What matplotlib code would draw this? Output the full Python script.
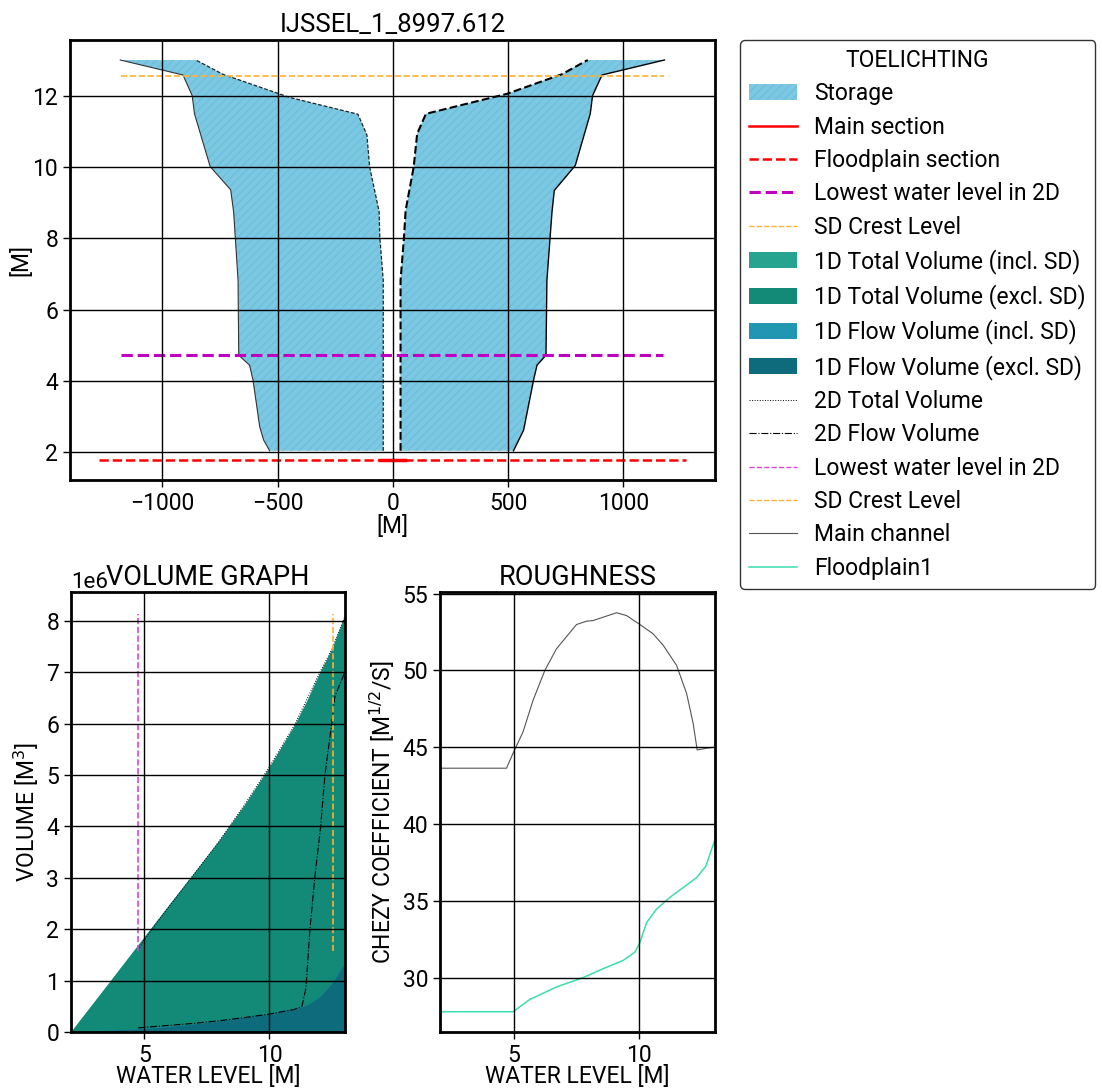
import matplotlib

matplotlib.use("Agg")
import matplotlib.pyplot as plt
from matplotlib.lines import Line2D
from matplotlib.patches import Patch

plt.rcParams["font.family"] = ["Roboto", "DejaVu Sans"]
plt.rcParams["font.size"] = 16
plt.rcParams["hatch.linewidth"] = 1.0

# --- cross-section (top) ---
left_outer_x = [-1183, -911, -871, -861, -793, -704, -691, -672, -669, -622, -607, -578, -561, -535]
left_outer_y = [13.0, 12.58, 12.0, 11.49, 10.01, 9.36, 8.73, 6.82, 4.72, 4.44, 4.02, 2.71, 2.34, 2.04]
left_inner_x = [-42, -42, -57, -60, -101, -113, -152, -448, -738, -855]
left_inner_y = [2.04, 6.82, 8.03, 8.75, 10.0, 10.9, 11.48, 11.95, 12.6, 13.0]
right_outer_x = [1178, 907, 866, 856, 791, 700, 690, 668, 664, 625, 610, 567, 523]
right_outer_y = [13.0, 12.58, 12.0, 11.49, 10.04, 9.34, 8.73, 6.82, 4.72, 4.44, 4.02, 2.62, 2.04]
right_inner_x = [33, 33, 48, 55, 90, 105, 143, 494, 733, 845]
right_inner_y = [2.04, 6.82, 8.03, 8.78, 10.0, 10.93, 11.49, 12.05, 12.6, 13.0]

main_section_x = [-57, 52]
floodplain_section_x = [-1274, 1270]
section_level = 1.78
lowest_2d_x = [-1180, 1170]
lowest_2d_level = 4.72
crest_x = [-1180, 1175]
crest_level = 12.55

# --- volume graph ---
vol_level = [2.04, 3, 4, 5, 6, 7, 8, 9, 10, 11, 11.5, 12, 12.5, 13.0]
total_incl_sd = [0, 0.60, 1.23, 1.86, 2.49, 3.11, 3.74, 4.42, 5.16, 5.97, 6.45, 6.98, 7.46, 8.10]
total_excl_sd = [0, 0.60, 1.23, 1.86, 2.49, 3.11, 3.74, 4.42, 5.16, 5.97, 6.45, 6.98, 7.45, 8.06]
flow_incl_sd = [0, 0.02, 0.045, 0.07, 0.11, 0.16, 0.22, 0.29, 0.36, 0.46, 0.53, 0.68, 0.95, 1.34]
flow_excl_sd = [0, 0.02, 0.045, 0.07, 0.11, 0.16, 0.22, 0.29, 0.36, 0.46, 0.53, 0.68, 0.95, 1.34]

total_2d_level = [4.75, 5.0, 6, 7, 8, 9, 10, 11, 12, 12.5, 13.0]
total_2d = [1.6, 1.8, 2.45, 3.08, 3.72, 4.42, 5.16, 5.97, 6.98, 7.45, 8.06]
flow_2d_level = [4.75, 6, 7, 8, 9, 10, 11, 11.3, 11.46, 11.62, 11.82, 12.05, 12.22, 12.49, 12.62, 13.0]
flow_2d = [0.08, 0.13, 0.17, 0.22, 0.28, 0.35, 0.44, 0.50, 0.85, 2.0, 3.03, 4.0, 5.0, 6.0, 6.53, 6.98]
vline_range = [1.57, 8.13]

# --- roughness ---
main_level = [2.05, 4.71, 4.97, 5.37, 5.77, 6.24, 6.70, 7.50, 7.90, 8.16, 9.10, 9.50, 10.03, 10.56,
              10.96, 11.49, 11.89, 12.15, 12.31, 12.69, 13.0]
main_chezy = [43.63, 43.63, 44.6, 46.0, 48.06, 50.0, 51.4, 52.98, 53.2, 53.24, 53.75, 53.56, 52.98,
              52.37, 51.62, 50.32, 48.49, 46.55, 44.82, 44.93, 45.0]
flood_level = [2.05, 4.97, 5.1, 5.64, 6.70, 7.76, 8.56, 9.36, 9.83, 10.03, 10.3, 10.69, 11.22, 11.75,
               12.29, 12.66, 13.0]
flood_chezy = [27.78, 27.78, 27.93, 28.58, 29.39, 30.0, 30.58, 31.12, 31.66, 32.3, 33.6, 34.46, 35.22,
               35.86, 36.51, 37.27, 38.9]

STORAGE_FACE = "#7cc8e2"
STORAGE_HATCH = "#6cbfdd"
TOTAL_INCL = "#26a490"
TOTAL_EXCL = "#138a78"
FLOW_INCL = "#2196b2"
FLOW_EXCL = "#0e6b7b"
LOWEST_C = "#dd44dd"
CREST_C = "#ffb030"
FLOOD_C = "#3ddcae"

fig = plt.figure(figsize=(11.02, 10.9), dpi=100)
ax_cs = fig.add_axes([0.0635, 0.5596, 0.5853, 0.4037])
ax_vol = fig.add_axes([0.0644, 0.0532, 0.2486, 0.4037])
ax_rough = fig.add_axes([0.3993, 0.0532, 0.2495, 0.4037])

for axis in (ax_cs, ax_vol, ax_rough):
    axis.set_axisbelow(False)
    axis.grid(True, color="k", linewidth=1.0)
    for spine in axis.spines.values():
        spine.set_linewidth(2)
    axis.tick_params(length=5, width=1, labelsize=16.5)

# cross-section
left_poly_x = left_outer_x + left_inner_x
left_poly_y = left_outer_y + left_inner_y
right_poly_x = right_outer_x + right_inner_x
right_poly_y = right_outer_y + right_inner_y
for px, py in ((left_poly_x, left_poly_y), (right_poly_x, right_poly_y)):
    ax_cs.fill(px, py, facecolor=STORAGE_FACE, edgecolor=STORAGE_HATCH, hatch="////", linewidth=0)
ax_cs.plot(left_outer_x, left_outer_y, color="#333333", linewidth=0.8)
ax_cs.plot(left_inner_x, left_inner_y, color="#222222", linewidth=0.9, linestyle=(0, (3, 1.5)))
ax_cs.plot(right_outer_x, right_outer_y, color="k", linewidth=1.0)
ax_cs.plot(right_inner_x, right_inner_y, color="k", linewidth=1.5, linestyle="--")

ax_cs.plot(floodplain_section_x, [section_level] * 2, color="red", linestyle="--", linewidth=1.8)
ax_cs.plot(main_section_x, [section_level] * 2, color="red", linewidth=2.5)
ax_cs.plot(lowest_2d_x, [lowest_2d_level] * 2, color="#c000c0", linestyle="--", linewidth=2.2)
ax_cs.plot(crest_x, [crest_level] * 2, color=CREST_C, linestyle="--", linewidth=1.2)

ax_cs.set_title("IJSSEL_1_8997.612", fontsize=18.5)
ax_cs.set_xlabel("[M]", fontsize=16.5, labelpad=0)
ax_cs.set_ylabel("[M]", fontsize=16.5, labelpad=0)

# volume graph
scale = 1e6
ax_vol.fill_between(vol_level, 0, [v * scale for v in total_incl_sd], color=TOTAL_INCL, linewidth=0)
ax_vol.fill_between(vol_level, 0, [v * scale for v in total_excl_sd], color=TOTAL_EXCL, linewidth=0)
ax_vol.fill_between(vol_level, 0, [v * scale for v in flow_incl_sd], color=FLOW_INCL, linewidth=0)
ax_vol.fill_between(vol_level, 0, [v * scale for v in flow_excl_sd], color=FLOW_EXCL, linewidth=0)
ax_vol.plot(total_2d_level, [v * scale for v in total_2d], color="k", linewidth=0.7, linestyle=":")
ax_vol.plot(flow_2d_level, [v * scale for v in flow_2d], color="k", linewidth=0.8, linestyle="-.")
ax_vol.plot([lowest_2d_level + 0.03] * 2, [v * scale for v in vline_range], color=LOWEST_C,
            linestyle="--", linewidth=1.2)
ax_vol.plot([crest_level] * 2, [v * scale for v in vline_range], color=CREST_C,
            linestyle="--", linewidth=1.2)
ax_vol.set_xlim(2.06, 13.02)
ax_vol.set_ylim(0, 8.56e6)
ax_vol.yaxis.get_offset_text().set_fontsize(16)
ax_vol.set_title("VOLUME GRAPH", fontsize=19.5, y=1.0, pad=5)
ax_vol.set_xlabel("WATER LEVEL [M]", fontsize=16.5, labelpad=-1)
ax_vol.set_ylabel("VOLUME [M$^3$]", fontsize=16.5)

# roughness
ax_rough.plot(main_level, main_chezy, color="#555555", linewidth=0.8)
ax_rough.plot(flood_level, flood_chezy, color=FLOOD_C, linewidth=1.1)
ax_rough.set_xlim(2.06, 13.02)
ax_rough.set_ylim(26.46, 55.1)
ax_rough.set_title("ROUGHNESS", fontsize=19.5, pad=5)
ax_rough.set_xlabel("WATER LEVEL [M]", fontsize=16.5, labelpad=-1)
ax_rough.set_ylabel("CHEZY COEFFICIENT [M$^{1/2}$/S]", fontsize=16.5)

handles = [
    Patch(facecolor=STORAGE_FACE, edgecolor=STORAGE_HATCH, hatch="////", linewidth=0),
    Line2D([], [], color="red", linewidth=1.8),
    Line2D([], [], color="red", linewidth=1.8, linestyle="--"),
    Line2D([], [], color="#c000c0", linewidth=2.2, linestyle="--"),
    Line2D([], [], color=CREST_C, linewidth=1.0, linestyle="--"),
    Patch(facecolor=TOTAL_INCL),
    Patch(facecolor=TOTAL_EXCL),
    Patch(facecolor=FLOW_INCL),
    Patch(facecolor=FLOW_EXCL),
    Line2D([], [], color="k", linewidth=0.7, linestyle=":"),
    Line2D([], [], color="k", linewidth=0.8, linestyle="-."),
    Line2D([], [], color=LOWEST_C, linewidth=1.0, linestyle="--"),
    Line2D([], [], color=CREST_C, linewidth=1.0, linestyle="--"),
    Line2D([], [], color="#555555", linewidth=0.8),
    Line2D([], [], color=FLOOD_C, linewidth=1.1),
]
labels = [
    "Storage", "Main section", "Floodplain section", "Lowest water level in 2D", "SD Crest Level",
    "1D Total Volume (incl. SD)", "1D Total Volume (excl. SD)", "1D Flow Volume (incl. SD)",
    "1D Flow Volume (excl. SD)", "2D Total Volume", "2D Flow Volume", "Lowest water level in 2D",
    "SD Crest Level", "Main channel", "Floodplain1",
]
fig.legend(
    handles, labels, title="TOELICHTING", loc="upper left",
    bbox_to_anchor=(740 / 1102, 1 - 40 / 1090), borderaxespad=0, handlelength=2.1,
    handletextpad=0.75, labelspacing=0.45, framealpha=1, edgecolor="#333333", fancybox=True,
    fontsize=16.5, title_fontsize=16.5,
)

fig.savefig("out.png", dpi=100)
